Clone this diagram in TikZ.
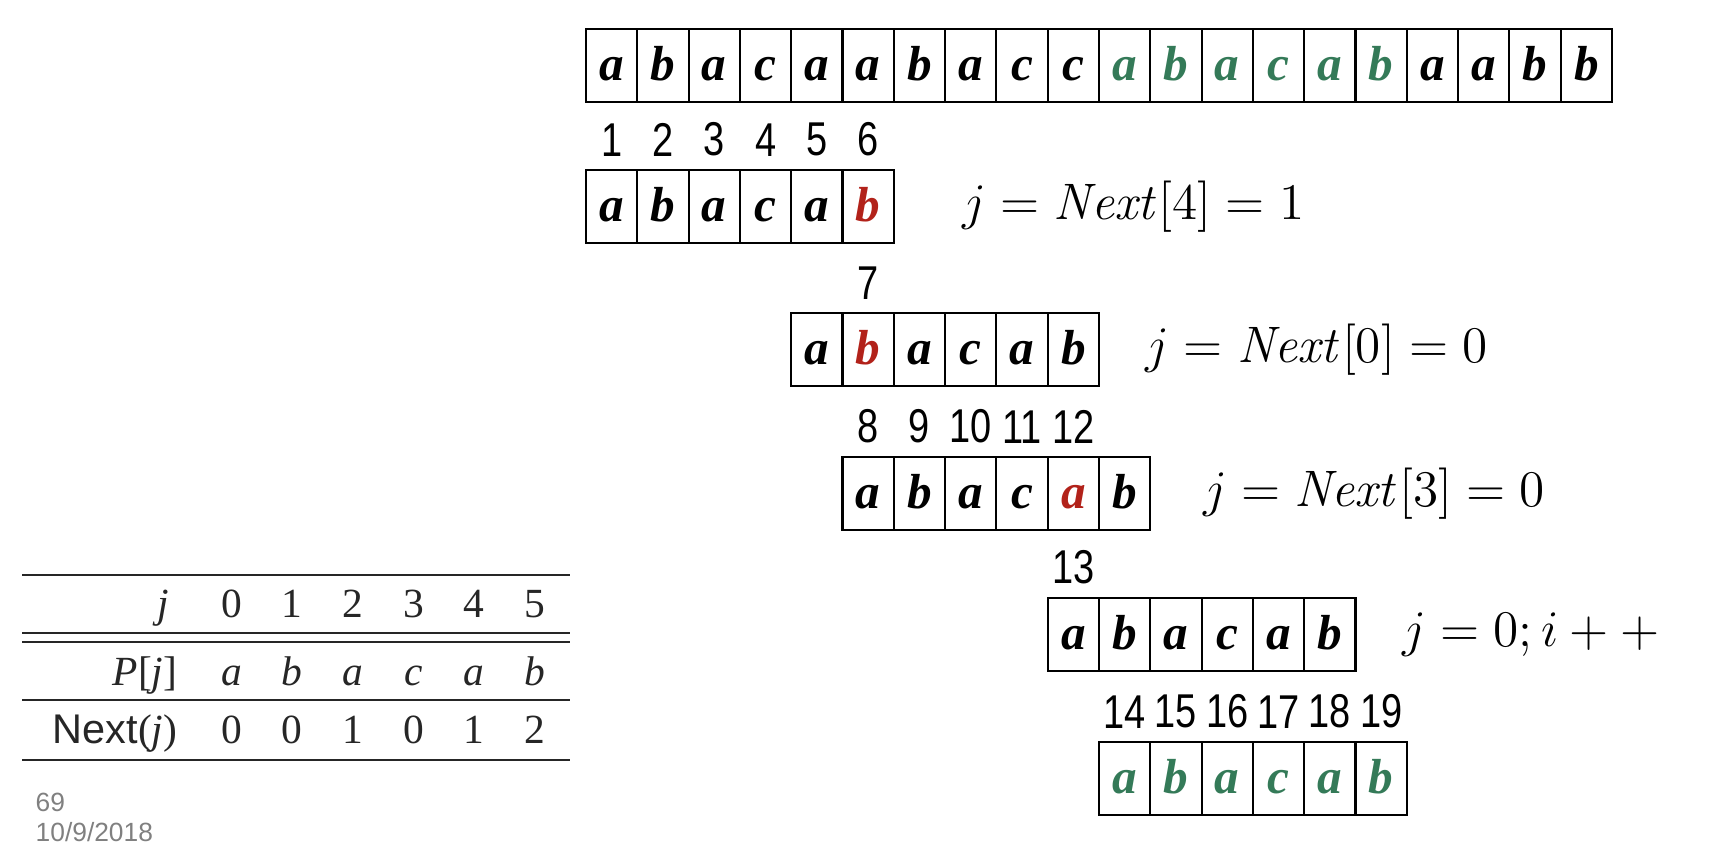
\RequirePackage{fix-cm}
\documentclass[tikz,border=0pt]{standalone}
\usepackage[no-math]{fontspec}
\setmainfont{Liberation Serif}
\setsansfont{Liberation Sans}
\newfontfamily\narrowsans[FakeStretch=0.8]{Liberation Sans}
\usetikzlibrary{positioning}

\definecolor{matchgreen}{RGB}{52,122,88}
\definecolor{failred}{RGB}{178,34,26}

\newcommand*{\cellw}{0.513}
\newcommand*{\cellh}{0.73}
\newcommand*{\colx}{0.607}

\begin{document}
\begin{tikzpicture}
[
	cellbox/.style={draw,line width=0.6pt,minimum width=\cellw cm,minimum height=\cellh cm,inner sep=0pt,text height=9.5pt,text depth=0.7pt,font=\fontsize{14}{14}\selectfont\bfseries\itshape},
	idx/.style={inner sep=0pt,font=\narrowsans\fontsize{13.5}{13.5}\selectfont},
	steplabel/.style={inner sep=0pt,font=\fontsize{14.6}{16}\selectfont},
	tabtxt/.style={inner sep=0pt,anchor=base,text=black!85,font=\fontsize{11.8}{12}\selectfont},
	rule/.style={line width=0.6pt,black!85},
	foot/.style={anchor=west,inner sep=0pt,text=black!50,font=\sffamily\fontsize{7.5}{9}\selectfont}
]

	\useasboundingbox (0,0) rectangle (17.12,-8.50);

	% text
	\foreach \ch/\cc [count=\k] in {a/black,b/black,a/black,c/black,a/black,a/black,b/black,a/black,c/black,c/black,a/matchgreen,b/matchgreen,a/matchgreen,c/matchgreen,a/matchgreen,b/matchgreen,a/black,a/black,b/black,b/black}
		\node[cellbox,text=\cc] (t\k) at ({5.86+(\k-0.5)*\cellw},-0.655) {\ch};

	% pattern shifts
	\foreach \row/\x/\y/\bc/\hit in {1/5.86/-2.065/black/6, 2/7.912/-3.495/black/2, 3/8.425/-4.935/black/5, 4/10.477/-6.345/black/0, 5/10.99/-7.785/matchgreen/0}
		\foreach \ch [count=\k] in {a,b,a,c,a,b} {
			\ifnum\k=\hit \def\cc{failred}\else\edef\cc{\bc}\fi
			\node[cellbox,text=\cc] (r\row c\k) at ({\x+(\k-0.5)*\cellw},\y) {\ch};
		}

	% indices
	\foreach \row/\k/\n in {1/1/1,1/2/2,1/3/3,1/4/4,1/5/5,1/6/6,2/2/7,3/1/8,3/2/9,3/3/10,3/4/11,3/5/12,4/1/13,5/1/14,5/2/15,5/3/16,5/4/17,5/5/18,5/6/19}
		\node[idx,above=0.12cm of r\row c\k] (n\n) {\n};

	% steps
	\node[steplabel,right=0.67cm of r1c6] (s1) {$j = \mathit{Next}[4] = 1$};
	\node[steplabel,right=0.45cm of r2c6] (s2) {$j = \mathit{Next}[0] = 0$};
	\node[steplabel,right=0.51cm of r3c6] (s3) {$j = \mathit{Next}[3] = 0$};
	\node[steplabel,right=0.45cm of r4c6] (s4) {$j = 0; i + +$};

	% next table
	\draw[rule] (0.22,-5.75) -- (5.70,-5.75);
	\draw[rule] (0.22,-6.33) -- (5.70,-6.33);
	\draw[rule] (0.22,-6.42) -- (5.70,-6.42);
	\draw[rule] (0.22,-7.00) -- (5.70,-7.00);
	\draw[rule] (0.22,-7.60) -- (5.70,-7.60);

	\node[tabtxt,anchor=base east] (hj) at (1.70,-6.18) {\textit{j}};
	\node[tabtxt,anchor=base east] (hp) at (1.78,-6.86) {\textit{P}[\textit{j}]};
	\node[tabtxt,anchor=base east] (hn) at (1.78,-7.44) {\textsf{Next}(\textit{j})};
	\foreach \j/\p/\nx in {0/a/0,1/b/0,2/a/1,3/c/0,4/a/1,5/b/2} {
		\node[tabtxt] (vj\j) at ({2.315+\j*\colx},-6.18) {\j};
		\node[tabtxt] (vp\j) at ({2.315+\j*\colx},-6.86) {\textit{\p}};
		\node[tabtxt] (vn\j) at ({2.315+\j*\colx},-7.44) {\nx};
	}

	% slide footer
	\node[foot] (f1) at (0.35,-8.02) {69};
	\node[foot] (f2) at (0.35,-8.32) {10/9/2018};

\end{tikzpicture}
\end{document}
